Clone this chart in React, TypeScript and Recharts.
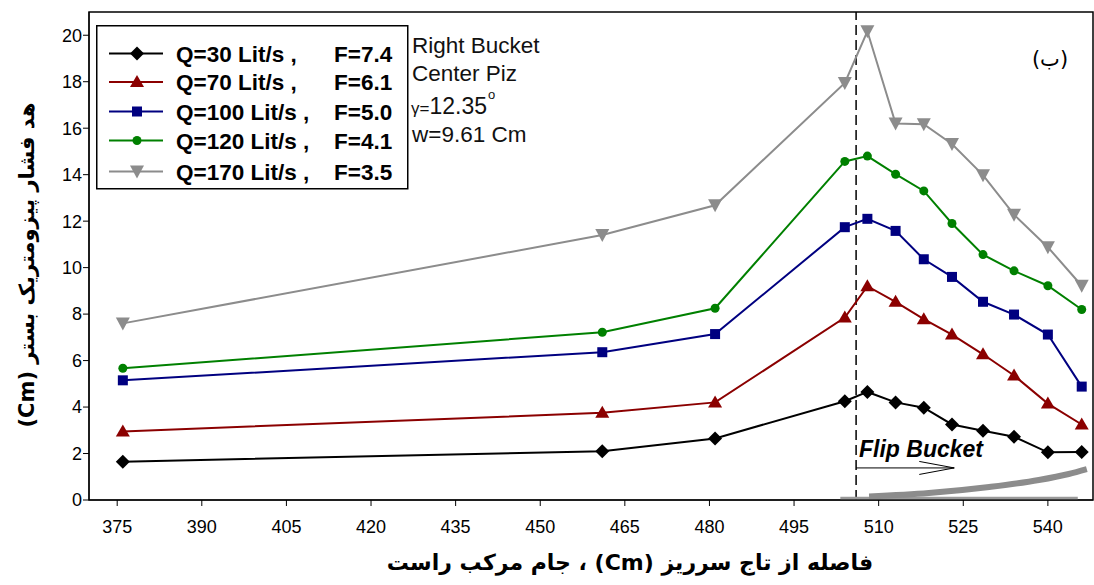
import React from "react";
import { LineChart, Line, XAxis, YAxis, ReferenceLine, ReferenceArea } from "recharts";

// Distance from spillway crest (Cm)
const distances = [376, 461, 481, 504, 508, 513, 518, 523, 528.5, 534, 540, 546];

// Piezometric head (Cm) per discharge
const q30 = [1.65, 2.1, 2.65, 4.25, 4.65, 4.2, 3.97, 3.25, 2.98, 2.72, 2.05, 2.07];
const q70 = [2.95, 3.75, 4.2, 7.85, 9.2, 8.53, 7.78, 7.12, 6.27, 5.36, 4.15, 3.25];
const q100 = [5.15, 6.36, 7.14, 11.74, 12.1, 11.58, 10.36, 9.6, 8.53, 7.98, 7.12, 4.88];
const q120 = [5.67, 7.22, 8.25, 14.57, 14.8, 14.02, 13.3, 11.9, 10.56, 9.86, 9.22, 8.2];
const q170 = [7.6, 11.4, 12.68, 17.95, 20.17, 16.2, 16.17, 15.32, 13.98, 12.28, 10.88, 9.22];

const seriesNames = ["Q=30 Lit/s ,", "Q=70 Lit/s ,", "Q=100 Lit/s ,", "Q=120 Lit/s ,", "Q=170 Lit/s ,"];
const froudeLabels = ["F=7.4", "F=6.1", "F=5.0", "F=4.1", "F=3.5"];
const seriesColors = ["#000000", "#8b0000", "#000080", "#008000", "#8c8c8c"];
const seriesShapes = ["diamond", "triangle", "square", "circle", "triangleDown"];

const xTicks = [375, 390, 405, 420, 435, 450, 465, 480, 495, 510, 525, 540];
const yTicks = [0, 2, 4, 6, 8, 10, 12, 14, 16, 18, 20];

// Flip bucket profile drawn at the bottom (distance, height)
const bucketX = [508.3, 518.9, 529.6, 538.4, 543.7, 546.9];
const bucketY = [0.15, 0.3, 0.56, 0.86, 1.12, 1.33];
const bucketBase = [
  { x: 503.2, y: 0.07 },
  { x: 545.3, y: 0.07 },
];
const bucketStart = 506;
const arrowShaft = [
  { x: 506, y: 1.38 },
  { x: 523.4, y: 1.38 },
];
const arrowHead1 = [
  { x: 517.2, y: 1.66 },
  { x: 523.4, y: 1.38 },
];
const arrowHead2 = [
  { x: 517.2, y: 1.1 },
  { x: 523.4, y: 1.38 },
];

const allSeries = [q30, q70, q100, q120, q170];
const toPoints = (ys: number[]) => distances.map((x, i) => ({ x, y: ys[i] }));
const bucketData = bucketX.map((x, i) => ({ x, y: bucketY[i] }));

const FONT = "'Liberation Sans', Arial, sans-serif";
const PFONT = "'DejaVu Sans', sans-serif";

function Marker({ cx, cy, shape, color }: { cx: number; cy: number; shape: string; color: string }) {
  if (cx == null || cy == null) return null;
  switch (shape) {
    case "diamond":
      return <polygon points={`${cx},${cy - 7} ${cx + 7},${cy} ${cx},${cy + 7} ${cx - 7},${cy}`} fill={color} />;
    case "triangle":
      return <polygon points={`${cx},${cy - 7} ${cx + 7},${cy + 5} ${cx - 7},${cy + 5}`} fill={color} />;
    case "square":
      return <rect x={cx - 5} y={cy - 5} width={10} height={10} fill={color} />;
    case "circle":
      return <circle cx={cx} cy={cy} r={4.5} fill={color} />;
    case "triangleDown":
      return <polygon points={`${cx - 7},${cy - 6} ${cx + 7},${cy - 6} ${cx},${cy + 7}`} fill={color} />;
    default:
      return null;
  }
}

function LegendBox() {
  const rowY = [28.5, 57, 86.5, 115.5, 146.5];
  return (
    <svg
      width={313}
      height={165}
      style={{ position: "absolute", left: 96, top: 25, pointerEvents: "none" }}
    >
      <rect x={0.75} y={0.75} width={311} height={163} fill="#fff" stroke="#000" strokeWidth={1.5} />
      {seriesNames.map((name, i) => (
        <g key={name}>
          <line x1={13} x2={67} y1={rowY[i]} y2={rowY[i]} stroke={seriesColors[i]} strokeWidth={2} />
          <Marker cx={41} cy={rowY[i]} shape={seriesShapes[i]} color={seriesColors[i]} />
          <text x={80} y={rowY[i] + 8} fontFamily={FONT} fontWeight="bold" fontSize={22.5} fill="#000">
            {name}
          </text>
          <text x={238} y={rowY[i] + 8} fontFamily={FONT} fontWeight="bold" fontSize={22.5} fill="#000">
            {froudeLabels[i]}
          </text>
        </g>
      ))}
    </svg>
  );
}

function Overlay() {
  return (
    <svg width={1094} height={585} style={{ position: "absolute", left: 0, top: 0, pointerEvents: "none" }}>
      <text x={412} y={53} fontFamily={FONT} fontSize={22.5} fill="#111">Right Bucket</text>
      <text x={412} y={81} fontFamily={FONT} fontSize={22.5} fill="#111">Center Piz</text>
      <text x={411} y={114} fontFamily={FONT} fill="#111">
        <tspan fontSize={17}>γ=</tspan>
        <tspan fontSize={23}>12.35</tspan>
        <tspan fontSize={13} dx={1} dy={-15}>o</tspan>
      </text>
      <text x={412} y={142} fontFamily={FONT} fontSize={22.5} fill="#111">w=9.61 Cm</text>
      <text x={1050} y={66} fontFamily={PFONT} fontSize={21} textAnchor="middle" direction="rtl" fill="#000">
        (ب)
      </text>
      <text x={859} y={457} fontFamily={FONT} fontSize={23} fontWeight="bold" fontStyle="italic" fill="#000">
        Flip Bucket
      </text>
      <text
        transform="translate(34,265) rotate(-90)"
        textAnchor="middle"
        fontFamily={PFONT}
        fontWeight="bold"
        fontSize={21}
        direction="rtl"
        fill="#000"
      >
        هد فشار پیزومتریک بستر (Cm)
      </text>
      <text
        x={630}
        y={570}
        textAnchor="middle"
        fontFamily={PFONT}
        fontWeight="bold"
        fontSize={22}
        direction="rtl"
        fill="#000"
      >
        فاصله از تاج سرریز (Cm) ، جام مرکب راست
      </text>
    </svg>
  );
}

export default function App() {
  return (
    <div style={{ position: "absolute", left: 0, top: 0, width: 1094, height: 585, background: "#fff" }}>
      <LineChart width={1094} height={585} margin={{ top: 12, right: 1, bottom: 45, left: 29 }}>
        <XAxis
          type="number"
          dataKey="x"
          domain={[370, 548]}
          ticks={xTicks}
          allowDataOverflow
          height={40}
          tickSize={6}
          tickMargin={14}
          stroke="#000"
          tick={{ fill: "#000", fontSize: 18, fontFamily: FONT }}
        />
        <YAxis
          type="number"
          domain={[0, 21]}
          ticks={yTicks}
          allowDataOverflow
          width={60}
          tickSize={6}
          tickMargin={1}
          stroke="#000"
          tick={{ fill: "#000", fontSize: 18, fontFamily: FONT }}
        />
        <ReferenceArea x1={370} x2={548} y1={0} y2={21} fill="none" stroke="#000" strokeWidth={1.5} />
        <ReferenceLine x={bucketStart} stroke="#000" strokeWidth={1.5} strokeDasharray="10 5" />
        <ReferenceLine segment={bucketBase} stroke="#9a9a9a" strokeWidth={3} />
        <Line
          data={bucketData}
          dataKey="y"
          type="monotone"
          stroke="#8c8c8c"
          strokeWidth={6}
          dot={false}
          isAnimationActive={false}
        />
        <ReferenceLine segment={arrowShaft} stroke="#000" strokeWidth={1} />
        <ReferenceLine segment={arrowHead1} stroke="#000" strokeWidth={1} />
        <ReferenceLine segment={arrowHead2} stroke="#000" strokeWidth={1} />
        {allSeries.map((ys, i) => (
          <Line
            key={seriesNames[i]}
            data={toPoints(ys)}
            dataKey="y"
            type="linear"
            stroke={seriesColors[i]}
            strokeWidth={2}
            isAnimationActive={false}
            dot={(p: any) => (
              <Marker key={`m-${i}-${p.index}`} cx={p.cx} cy={p.cy} shape={seriesShapes[i]} color={seriesColors[i]} />
            )}
          />
        ))}
      </LineChart>
      <LegendBox />
      <Overlay />
    </div>
  );
}
